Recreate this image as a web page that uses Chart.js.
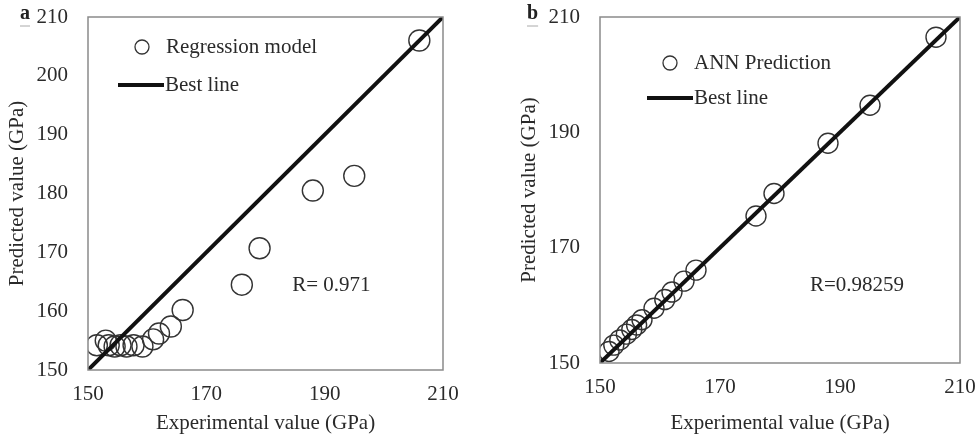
<!DOCTYPE html>
<html>
<head>
<meta charset="utf-8">
<script src="https://cdn.jsdelivr.net/npm/chart.js@4"></script>
<style>
  html, body { margin: 0; padding: 0; background: #fff; }
  .wrap { position: absolute; top: 0; height: 441px; }
  #boxA { left: 0; width: 490px; }
  #boxB { left: 490px; width: 489px; }
</style>
</head>
<body>
<div class="wrap" id="boxA"><canvas id="chartA"></canvas></div>
<div class="wrap" id="boxB"><canvas id="chartB"></canvas></div>
<script>
// panel a: regression model
const expA = [151.5, 153, 153.5, 154.5, 155.5, 156.5, 157.7, 159.2, 161, 162, 164, 166, 176, 179, 188, 195, 206];
const predA = [154.2, 155, 154.2, 154.0, 154.2, 154.0, 154.2, 154.0, 155.2, 156.2, 157.4, 160.2, 164.5, 170.7, 180.5, 183, 206];

// panel b: ANN prediction
const expB = [151.5, 152.3, 153.3, 154.4, 155.3, 156.1, 157, 159, 160.8, 162, 164, 166, 176, 179, 188, 195, 206];
const predB = [152, 153.1, 154, 155, 155.8, 156.6, 157.5, 159.5, 161, 162.3, 164.2, 166.1, 175.5, 179.4, 188.1, 194.7, 206.5];

const bestLine = [150, 210];
const xTicks = [150, 170, 190, 210];
const yTicksA = [150, 160, 170, 180, 190, 200, 210];
const yTicksB = [150, 170, 190, 210];

const FONT = "'Liberation Serif', 'Times New Roman', serif";
const TXT = '#2a2a2a';

function toPts(xs, ys) {
  return xs.map((x, i) => ({ x: x, y: ys[i] }));
}

// draws frame, panel letter, inside legend and R text
function panelPlugin(opt) {
  return {
    id: 'panelDeco',
    afterDraw(chart) {
      const c = chart.ctx;
      const a = chart.chartArea;
      const xs = chart.scales.x, ys = chart.scales.y;
      c.save();
      // frame
      c.strokeStyle = '#8a8a8a';
      c.lineWidth = 1.5;
      c.strokeRect(a.left, a.top, a.right - a.left, a.bottom - a.top);

      // panel letter
      c.fillStyle = '#222';
      c.font = 'bold 20px ' + FONT;
      c.textBaseline = 'middle';
      c.textAlign = 'left';
      c.fillText(opt.letter, opt.letterX, 14);
      const lw = c.measureText(opt.letter).width;
      c.strokeStyle = '#aaa';
      c.lineWidth = 1;
      c.beginPath();
      c.moveTo(opt.letterX, 26);
      c.lineTo(opt.letterX + lw, 26);
      c.stroke();

      // legend
      c.font = '21px ' + FONT;
      c.fillStyle = TXT;
      c.strokeStyle = '#333';
      c.lineWidth = 1.3;
      c.beginPath();
      c.arc(a.left + opt.legX, a.top + opt.legY, 7, 0, Math.PI * 2);
      c.stroke();
      c.fillText(opt.label, a.left + opt.legX + 24, a.top + opt.legY);

      c.strokeStyle = '#111';
      c.lineWidth = 4;
      c.beginPath();
      c.moveTo(a.left + opt.lineX, a.top + opt.legY + opt.gap);
      c.lineTo(a.left + opt.lineX + 46, a.top + opt.legY + opt.gap);
      c.stroke();
      c.fillText('Best line', a.left + opt.lineX + 47, a.top + opt.legY + opt.gap);

      // R value
      c.fillText(opt.rText, xs.getPixelForValue(opt.rAt[0]), ys.getPixelForValue(opt.rAt[1]));
      c.restore();
    }
  };
}

function makeChart(id, xsData, ysData, yTicks, cfg) {
  const ctx = document.getElementById(id).getContext('2d');
  return new Chart(ctx, {
    type: 'scatter',
    data: {
      datasets: [
        {
          label: cfg.label,
          data: toPts(xsData, ysData),
          pointRadius: cfg.radius,
          pointBackgroundColor: 'rgba(0,0,0,0)',
          pointBorderColor: '#333',
          pointBorderWidth: 1.4,
          showLine: false,
          order: 2
        },
        {
          label: 'Best line',
          type: 'line',
          data: toPts(bestLine, bestLine),
          borderColor: '#111',
          borderWidth: 4,
          pointRadius: 0,
          order: 1
        }
      ]
    },
    options: {
      responsive: true,
      maintainAspectRatio: false,
      animation: false,
      layout: { autoPadding: false, padding: { left: 0, right: cfg.padRight, top: 17, bottom: 0 } },
      plugins: { legend: { display: false }, tooltip: { enabled: false } },
      scales: {
        x: {
          type: 'linear',
          min: 150, max: 210,
          afterBuildTicks: (s) => { s.ticks = xTicks.map(v => ({ value: v })); },
          afterFit: (s) => { s.height = cfg.xHeight; },
          grid: { drawOnChartArea: false, drawTicks: true, tickLength: 9, tickColor: 'rgba(0,0,0,0)', color: 'rgba(0,0,0,0)' },
          border: { display: false },
          ticks: { color: TXT, font: { family: FONT, size: 21 }, padding: 3, maxRotation: 0 },
          title: {
            display: true,
            text: 'Experimental value (GPa)',
            color: TXT,
            font: { family: FONT, size: 21 },
            padding: { top: 0, bottom: 5 }
          }
        },
        y: {
          type: 'linear',
          min: 150, max: 210,
          afterBuildTicks: (s) => { s.ticks = yTicks.map(v => ({ value: v })); },
          afterFit: (s) => { s.width = cfg.yWidth; },
          grid: { drawOnChartArea: false, drawTicks: true, tickLength: 17, tickColor: 'rgba(0,0,0,0)', color: 'rgba(0,0,0,0)' },
          border: { display: false },
          ticks: { color: TXT, font: { family: FONT, size: 21 }, padding: 3 },
          title: {
            display: true,
            text: 'Predicted value (GPa)',
            color: TXT,
            font: { family: FONT, size: 21 },
            padding: { top: cfg.yTitlePad, bottom: 0 }
          }
        }
      }
    },
    plugins: [panelPlugin(cfg)]
  });
}

makeChart('chartA', expA, predA, yTicksA, {
  label: 'Regression model',
  radius: 10.5,
  padRight: 47,
  xHeight: 71,
  yWidth: 88,
  yTitlePad: 5,
  letter: 'a',
  letterX: 20,
  legX: 54, legY: 30, lineX: 30, gap: 38,
  rText: 'R= 0.971',
  rAt: [184.5, 164.4]
});

makeChart('chartB', expB, predB, yTicksB, {
  label: 'ANN Prediction',
  radius: 10,
  padRight: 19,
  xHeight: 78,
  yWidth: 110,
  yTitlePad: 27,
  letter: 'b',
  letterX: 37,
  legX: 70, legY: 46, lineX: 47, gap: 35,
  rText: 'R=0.98259',
  rAt: [185, 163.5]
});
</script>
</body>
</html>
